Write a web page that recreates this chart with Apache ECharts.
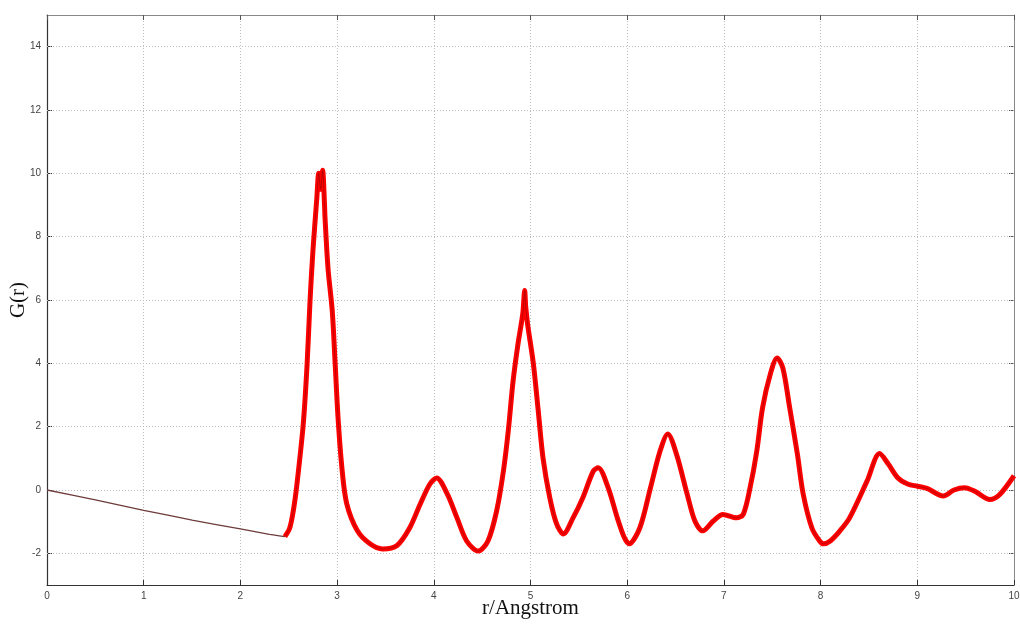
<!DOCTYPE html>
<html>
<head>
<meta charset="utf-8">
<title>G(r)</title>
<script src="https://cdn.jsdelivr.net/npm/echarts@6/dist/echarts.min.js"></script>
<style>
  html, body { margin: 0; padding: 0; background: #ffffff; }
  #chart { width: 1020px; height: 624px; }
</style>
</head>
<body>
<div id="chart"></div>
<script>
// Radial distribution G(r): low-r linear region and the oscillating part
const lowR = [0, 0.5, 1.0, 1.5, 2.0, 2.3, 2.46];
const lowG = [0, -0.31, -0.64, -0.95, -1.23, -1.40, -1.47];

const peakR = [
  2.46, 2.51, 2.55, 2.585, 2.65, 2.69, 2.72, 2.75, 2.79, 2.81, 2.83, 2.85, 2.87, 2.875,
  2.906, 2.95, 2.98, 3.01, 3.05, 3.10, 3.21, 3.34, 3.47, 3.62, 3.75, 3.86, 3.96, 4.03,
  4.14, 4.24, 4.34, 4.46, 4.56, 4.65, 4.72, 4.77, 4.82, 4.87, 4.92, 4.94, 4.95, 4.97,
  5.03, 5.08, 5.13, 5.20, 5.27, 5.34, 5.44, 5.54, 5.65, 5.70, 5.80, 5.90, 5.97, 6.02,
  6.13, 6.24, 6.34, 6.42, 6.51, 6.62, 6.70, 6.78, 6.89, 6.99, 7.13, 7.20, 7.27, 7.34,
  7.40, 7.48, 7.55, 7.61, 7.68, 7.76, 7.82, 7.91, 7.99, 8.03, 8.10, 8.20, 8.30, 8.48,
  8.61, 8.70, 8.80, 8.90, 9.00, 9.10, 9.27, 9.38, 9.49, 9.60, 9.75, 9.85, 10.0
];
const peakG = [
  -1.47, -1.2, -0.6, 0.19, 2.08, 3.98, 5.97, 7.55, 9.2, 10.0, 9.5, 10.1, 9.0, 8.6,
  7.0, 5.65, 3.98, 2.27, 0.69, -0.44, -1.29, -1.7, -1.86, -1.75, -1.2, -0.44, 0.19, 0.38,
  -0.13, -0.88, -1.61, -1.93, -1.61, -0.66, 0.6, 1.86, 3.44, 4.6, 5.56, 6.3, 5.8, 5.24,
  3.98, 2.5, 1.0, -0.25, -1.07, -1.39, -0.88, -0.25, 0.6, 0.7, 0.1, -0.9, -1.5, -1.7,
  -1.2, 0.06, 1.23, 1.77, 1.13, -0.13, -0.98, -1.29, -0.98, -0.77, -0.88, -0.77, 0.06, 1.23,
  2.6, 3.66, 4.17, 3.85, 2.6, 1.13, -0.13, -1.2, -1.61, -1.7, -1.61, -1.29, -0.88, 0.28,
  1.15, 0.82, 0.38, 0.19, 0.12, 0.05, -0.19, 0.0, 0.07, -0.05, -0.3, -0.15, 0.45
];

const xTicks = [0, 1, 2, 3, 4, 5, 6, 7, 8, 9, 10];
const yTicks = [-2, 0, 2, 4, 6, 8, 10, 12, 14];

const pair = (xs, ys) => xs.map((x, i) => [x, ys[i]]);

const tickFont = { fontFamily: 'Liberation Sans Narrow, Liberation Sans, Arial, sans-serif', fontSize: 10, color: '#444' };
const dotted = { color: '#bdbdbd', type: [1, 2], width: 1 };
const nameFont = { fontFamily: 'Liberation Serif, Times New Roman, serif', fontSize: 21, color: '#111' };

const chart = echarts.init(document.getElementById('chart'), null, { renderer: 'canvas' });
chart.setOption({
  animation: false,
  backgroundColor: '#ffffff',
  grid: { left: 47, right: 6, top: 15, bottom: 39, outerBoundsMode: 'none', containLabel: false },
  xAxis: [
    {
      type: 'value', min: 0, max: 10, interval: 1, position: 'bottom',
      name: 'r/Angstrom', nameLocation: 'middle', nameGap: 13, nameMoveOverlap: false, nameTextStyle: nameFont,
      axisLine: { show: true, onZero: false, lineStyle: { color: '#333', width: 1.2 } },
      axisTick: { show: true, inside: true, length: 5, customValues: xTicks, lineStyle: { color: '#333' } },
      axisLabel: Object.assign({ margin: 6, customValues: xTicks }, tickFont),
      splitLine: { show: true, lineStyle: dotted }
    },
    {
      type: 'value', min: 0, max: 10, interval: 1, position: 'top',
      axisLine: { show: true, onZero: false, lineStyle: { color: '#888', width: 1 } },
      axisTick: { show: true, inside: true, length: 5, lineStyle: { color: '#555' } },
      axisLabel: { show: false }, splitLine: { show: false }
    }
  ],
  yAxis: [
    {
      type: 'value', min: -3, max: 15, position: 'left',
      name: 'G(r)', nameLocation: 'middle', nameGap: 18, nameRotate: 90, nameMoveOverlap: false, nameTextStyle: nameFont,
      axisLine: { show: true, onZero: false, lineStyle: { color: '#333', width: 1.2 } },
      axisTick: { show: true, inside: true, length: 5, customValues: yTicks, lineStyle: { color: '#333' } },
      axisLabel: Object.assign({ margin: 6, customValues: yTicks }, tickFont),
      splitLine: { show: false }
    },
    {
      type: 'value', min: -3, max: 15, position: 'right',
      axisLine: { show: true, onZero: false, lineStyle: { color: '#888', width: 1 } },
      axisTick: { show: true, inside: true, length: 5, customValues: yTicks, lineStyle: { color: '#555' } },
      axisLabel: { show: false }, splitLine: { show: false }
    }
  ],
  series: [
    {
      name: 'G(r) low r', type: 'line', data: pair(lowR, lowG),
      showSymbol: false, smooth: 0.2, z: 3,
      lineStyle: { color: '#6e3b3b', width: 1.3 },
      // horizontal dotted grid at the labelled G(r) values
      markLine: {
        silent: true, symbol: 'none', label: { show: false }, z: 1,
        lineStyle: dotted,
        data: yTicks.map(v => ({ yAxis: v }))
      }
    },
    {
      name: 'G(r)', type: 'line', data: pair(peakR, peakG),
      showSymbol: false, smooth: 0.3, z: 3,
      lineStyle: { color: '#ff0000', width: 5 }
    },
    {
      name: 'G(r) trace', type: 'line', data: pair(peakR, peakG),
      showSymbol: false, smooth: 0.3, z: 4,
      lineStyle: { color: '#5a0a0a', width: 0.8, opacity: 0.5 }
    }
  ]
});
</script>
</body>
</html>
